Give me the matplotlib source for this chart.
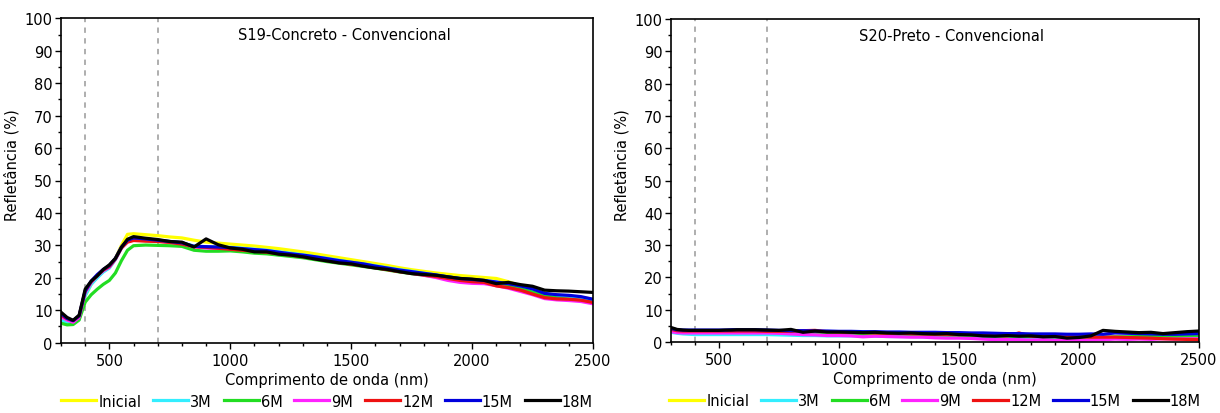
import matplotlib
matplotlib.use("Agg")
import matplotlib.pyplot as plt
from matplotlib.ticker import MultipleLocator

wavelength = [300, 325, 350, 375, 400, 425, 450, 475, 500, 525, 550, 575, 600,
              650, 700, 750, 800, 850, 900, 950, 1000, 1050, 1100, 1150, 1200,
              1250, 1300, 1350, 1400, 1450, 1500, 1550, 1600, 1650, 1700, 1750,
              1800, 1850, 1900, 1950, 2000, 2050, 2100, 2150, 2200, 2250, 2300,
              2350, 2400, 2450, 2500]

labels = ["Inicial", "3M", "6M", "9M", "12M", "15M", "18M"]
colors = ["#ffff00", "#33eeff", "#22dd22", "#ff22ff", "#ee1111", "#0000dd", "#000000"]

# S19 - Concreto
s19_inicial = [8.0, 7.0, 6.5, 7.5, 14.5, 18.0, 20.3, 22.0, 23.5, 26.0, 30.0, 33.4, 33.6,
               33.3, 33.0, 32.6, 32.3, 31.6, 31.0, 30.7, 30.4, 30.1, 29.8, 29.4, 29.0,
               28.5, 28.0, 27.4, 26.8, 26.2, 25.6, 25.0, 24.4, 23.8, 23.1, 22.5,
               22.0, 21.5, 21.1, 20.7, 20.4, 20.1, 19.8, 18.8, 17.5, 16.6, 15.3,
               14.6, 14.4, 14.0, 13.4]
s19_3m = [7.0, 6.0, 5.8, 7.2, 14.5, 18.0, 20.0, 21.8, 23.0, 25.6, 29.2, 31.6, 32.0,
          31.8, 31.5, 31.2, 30.8, 29.8, 29.6, 29.4, 29.4, 29.1, 28.8, 28.5, 28.0,
          27.6, 27.1, 26.5, 26.0, 25.4, 24.8, 24.3, 23.7, 23.1, 22.5, 22.0,
          21.4, 20.9, 20.3, 19.8, 19.4, 19.1, 18.7, 17.9, 17.0, 16.2, 15.2,
          14.5, 14.2, 13.8, 13.3]
s19_6m = [6.0, 5.5, 5.6, 7.0, 12.5, 14.8, 16.5, 18.0, 19.2, 21.5, 25.3, 28.5, 29.9,
          30.1, 30.0, 29.9, 29.7, 28.5, 28.2, 28.2, 28.3, 28.0, 27.6, 27.4, 27.0,
          26.6, 26.2, 25.6, 25.0, 24.5, 24.0, 23.5, 23.0, 22.4, 21.8, 21.3,
          20.8, 20.3, 19.8, 19.3, 19.0, 18.7, 18.3, 17.5, 16.6, 15.6, 14.6,
          13.8, 13.4, 13.0, 12.4]
s19_9m = [8.0, 7.0, 6.3, 7.8, 15.5, 18.6, 20.6, 22.2, 23.3, 25.8, 29.2, 31.3, 31.6,
          31.5, 31.3, 31.0, 30.6, 29.6, 29.2, 29.1, 29.0, 28.8, 28.5, 28.2, 27.7,
          27.3, 26.8, 26.2, 25.6, 25.0, 24.5, 24.0, 23.3, 22.7, 22.0, 21.4,
          20.8, 20.1, 19.2, 18.6, 18.3, 18.2, 17.6, 16.8, 15.8, 14.8, 13.6,
          13.2, 13.0, 12.7, 12.0]
s19_12m = [8.5, 7.4, 6.8, 8.2, 15.8, 18.8, 20.8, 22.4, 23.5, 25.8, 29.2, 31.0, 31.5,
           31.3, 31.2, 30.9, 30.4, 29.6, 29.4, 29.1, 28.8, 28.5, 28.2, 27.9, 27.4,
           27.0, 26.5, 25.9, 25.3, 24.7, 24.2, 23.7, 23.1, 22.5, 21.9, 21.4,
           20.9, 20.4, 19.8, 19.2, 18.8, 18.6, 17.5, 17.0, 16.2, 15.0, 13.9,
           13.5, 13.4, 13.1, 12.4]
s19_15m = [9.0, 7.5, 6.8, 8.3, 16.0, 19.0, 21.0, 22.6, 23.8, 26.0, 29.5, 31.6, 32.3,
           32.0, 31.6, 31.2, 30.8, 29.7, 29.6, 29.5, 29.3, 29.0, 28.7, 28.4, 27.9,
           27.4, 27.0, 26.5, 25.9, 25.3, 24.8, 24.3, 23.6, 23.0, 22.4, 21.9,
           21.4, 20.9, 20.3, 19.8, 19.5, 19.2, 18.7, 18.2, 17.5, 16.6, 15.2,
           14.8, 14.6, 14.2, 13.4]
s19_18m = [9.4, 7.8, 6.9, 8.5, 16.5, 19.0, 20.6, 22.6, 24.0, 26.0, 29.4, 31.9, 32.7,
           32.2, 31.8, 31.2, 31.0, 29.5, 32.0, 30.2, 29.2, 28.8, 28.0, 28.0, 27.3,
           27.0, 26.5, 25.8, 25.2, 24.6, 24.3, 23.6, 23.0, 22.6, 21.9, 21.3,
           21.0, 20.8, 20.3, 19.8, 19.6, 19.2, 18.2, 18.6, 17.9, 17.4, 16.2,
           16.0, 15.9, 15.7, 15.5]

# S20 - Preto
s20_inicial = [3.3, 3.0, 2.9, 2.9, 2.9, 2.9, 2.9, 2.9, 2.9, 2.9, 2.9, 2.9, 2.9,
               2.9, 2.9, 2.8, 2.7, 2.6, 2.5, 2.4, 2.4, 2.3, 2.2, 2.2, 2.1,
               2.0, 2.0, 1.9, 1.9, 1.8, 1.7, 1.7, 1.6, 1.6, 1.5, 1.5,
               1.4, 1.4, 1.3, 1.3, 1.2, 1.2, 1.2, 1.2, 1.2, 1.2, 1.2,
               1.1, 1.1, 1.1, 1.1]
s20_3m = [3.0, 2.7, 2.5, 2.4, 2.3, 2.3, 2.3, 2.3, 2.3, 2.3, 2.3, 2.3, 2.3,
          2.3, 2.3, 2.2, 2.1, 2.0, 2.0, 1.9, 1.9, 1.9, 1.8, 1.8, 1.7,
          1.7, 1.7, 1.6, 1.6, 1.6, 1.5, 1.5, 1.5, 1.4, 1.4, 1.4,
          1.3, 1.3, 1.3, 1.3, 1.2, 1.2, 1.3, 1.4, 1.5, 1.5, 1.6,
          1.6, 1.7, 1.7, 1.8]
s20_6m = [3.5, 3.2, 3.1, 3.1, 3.1, 3.1, 3.1, 3.1, 3.1, 3.1, 3.1, 3.1, 3.1,
          3.1, 3.1, 3.0, 3.0, 2.9, 2.8, 2.7, 2.7, 2.6, 2.5, 2.5, 2.4,
          2.3, 2.3, 2.2, 2.2, 2.1, 2.0, 2.0, 1.9, 1.9, 1.8, 1.8,
          1.7, 1.7, 1.6, 1.6, 1.5, 1.5, 1.5, 1.6, 1.6, 1.7, 1.7,
          1.7, 1.8, 1.8, 1.8]
s20_9m = [3.2, 2.9, 2.8, 2.8, 2.8, 2.8, 2.8, 2.8, 2.8, 2.8, 2.8, 2.8, 2.8,
          2.8, 2.8, 2.7, 2.5, 2.3, 2.2, 2.0, 2.0, 1.9, 1.6, 1.8, 1.7,
          1.6, 1.5, 1.5, 1.3, 1.2, 1.2, 1.1, 0.9, 0.7, 0.8, 0.7,
          0.6, 0.7, 0.5, 0.6, 0.5, 0.6, 0.7, 0.9, 0.8, 0.9, 0.8,
          1.0, 0.9, 1.0, 1.0]
s20_12m = [3.9, 3.5, 3.4, 3.4, 3.4, 3.4, 3.4, 3.4, 3.4, 3.4, 3.4, 3.4, 3.4,
           3.4, 3.3, 3.3, 3.3, 3.5, 3.6, 3.2, 3.1, 3.0, 2.9, 2.8, 2.7,
           2.7, 2.6, 2.5, 2.4, 2.4, 2.3, 2.6, 2.1, 2.0, 1.9, 2.8,
           1.8, 1.7, 1.7, 1.6, 1.6, 1.5, 1.5, 1.5, 1.4, 1.3, 1.2,
           1.0, 0.9, 0.8, 0.7]
s20_15m = [4.2, 3.8, 3.7, 3.7, 3.7, 3.7, 3.7, 3.7, 3.7, 3.7, 3.8, 3.8, 3.8,
           3.8, 3.7, 3.6, 3.5, 3.5, 3.4, 3.4, 3.3, 3.3, 3.2, 3.2, 3.1,
           3.1, 3.0, 3.0, 3.0, 2.9, 2.9, 2.8, 2.8, 2.7, 2.6, 2.6,
           2.5, 2.5, 2.5, 2.4, 2.4, 2.5, 2.4, 2.8, 2.7, 2.6, 2.5,
           2.4, 2.4, 2.5, 2.6]
s20_18m = [4.5, 3.9, 3.7, 3.6, 3.6, 3.6, 3.6, 3.6, 3.6, 3.7, 3.7, 3.8, 3.8,
           3.8, 3.7, 3.6, 3.9, 3.0, 3.4, 3.1, 3.1, 3.0, 2.9, 3.0, 2.8,
           2.7, 2.8, 2.6, 2.5, 2.6, 2.3, 2.2, 1.9, 1.8, 2.0, 1.8,
           1.9, 1.6, 1.7, 1.2, 1.4, 1.9, 3.6, 3.3, 3.1, 2.9, 3.0,
           2.6, 2.9, 3.2, 3.4]

s19 = [s19_inicial, s19_3m, s19_6m, s19_9m, s19_12m, s19_15m, s19_18m]
s20 = [s20_inicial, s20_3m, s20_6m, s20_9m, s20_12m, s20_15m, s20_18m]


def draw_panel(ax, series, title):
    for values, lab, col in zip(series, labels, colors):
        ax.plot(wavelength, values, color=col, lw=2.3, label=lab, solid_joinstyle="round")
    for xv in (400, 700):
        ax.axvline(xv, color="#999999", lw=1.1, ls=(0, (3.5, 3.5)), zorder=0)
    ax.text(1470, 95, title, ha="center", va="center", fontsize=10.5)
    ax.set_xlim(300, 2500)
    ax.set_ylim(0, 100)
    ax.xaxis.set_major_locator(MultipleLocator(500))
    ax.xaxis.set_minor_locator(MultipleLocator(100))
    ax.yaxis.set_major_locator(MultipleLocator(10))
    ax.yaxis.set_minor_locator(MultipleLocator(5))
    ax.tick_params(which="major", direction="out", length=4.5, width=1, labelsize=10.5)
    ax.tick_params(axis="y", which="major", pad=1.5)
    ax.tick_params(axis="x", which="major", pad=3)
    ax.tick_params(which="minor", direction="out", length=2.5, width=1)
    for sp in ax.spines.values():
        sp.set_linewidth(1.2)
    ax.set_xlabel("Comprimento de onda (nm)", fontsize=10.5, labelpad=2.5)
    ax.set_ylabel("Refletância (%)", fontsize=10.5)
    ax.yaxis.set_label_coords(-0.078, 0.55)
    ax.legend(loc="center", bbox_to_anchor=(0.5, -0.18), ncol=7, frameon=False,
              fontsize=10.5, handlelength=2.4, handletextpad=0.15, columnspacing=0.8,
              borderaxespad=0)


def main():
    plt.rcParams["font.family"] = ["DejaVu Sans"]
    fig = plt.figure(figsize=(12.2, 4.14), dpi=100)
    ax1 = fig.add_axes([61 / 1220, 1 - 343.7 / 414, 532 / 1220, 324.4 / 414])
    ax2 = fig.add_axes([671 / 1220, 1 - 343 / 414, 528 / 1220, 323 / 414])
    draw_panel(ax1, s19, "S19-Concreto - Convencional")
    draw_panel(ax2, s20, "S20-Preto - Convencional")
    fig.savefig("out.png", dpi=100)


if __name__ == "__main__":
    main()
